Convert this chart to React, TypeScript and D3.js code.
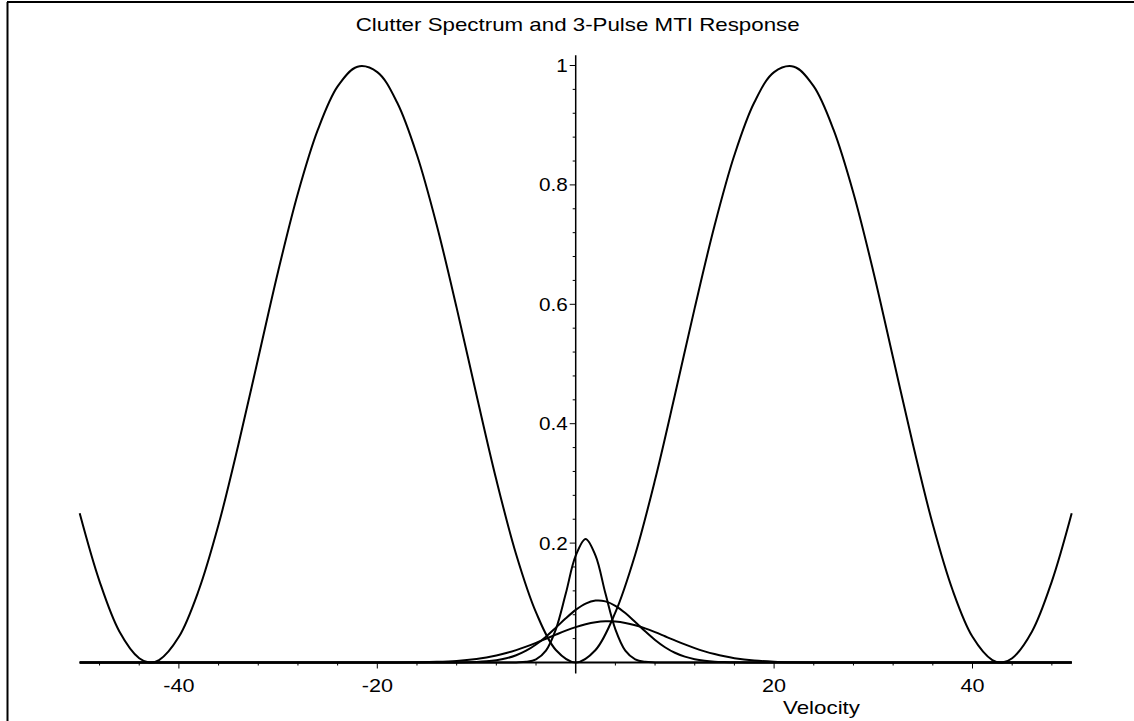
import React from "react";
import * as d3 from "d3";

// ---------- data ----------
const mtiVelocity = [
  -50, -48, -46, -44, -43, -42, -40, -38, -36, -34, -32, -30, -28, -26, -24, -22, -20, -18, -16, -14, -12,
  -10, -8, -6, -4, -2, 0, 2, 4, 6, 8, 10, 12, 14, 16, 18, 20, 22, 24, 26, 28, 30, 32, 34, 36, 38, 40, 42,
  43, 44, 46, 48, 50,
];
const mtiResponse = [
  0.25, 0.136, 0.052, 0.007, 0.0, 0.004, 0.043, 0.121, 0.231, 0.365, 0.51, 0.655, 0.786, 0.892, 0.965,
  0.998, 0.989, 0.938, 0.85, 0.732, 0.594, 0.448, 0.306, 0.181, 0.084, 0.021, 0.0, 0.021, 0.084, 0.181,
  0.306, 0.448, 0.594, 0.732, 0.85, 0.938, 0.989, 0.998, 0.965, 0.892, 0.786, 0.655, 0.51, 0.365, 0.231,
  0.121, 0.043, 0.004, 0.0, 0.007, 0.052, 0.136, 0.25,
];

const clutterVelocity = [
  -50, -30, -20, -18, -16, -14, -12, -10, -9, -8, -7, -6, -5, -4, -3, -2, -1, 0, 1, 2, 3, 4, 5, 6, 7, 8, 9,
  10, 11, 12, 13, 14, 15, 16, 18, 20, 22, 24, 26, 30, 50,
];
const clutterNarrow = [
  0, 0, 0, 0, 0, 0, 0, 0, 0, 0, 0, 0.0002, 0.0011, 0.0054, 0.02, 0.0556, 0.1154, 0.1789, 0.207, 0.1789,
  0.1154, 0.0556, 0.02, 0.0054, 0.0011, 0.0002, 0, 0, 0, 0, 0, 0, 0, 0, 0, 0, 0, 0, 0, 0, 0,
];
const clutterMedium = [
  0, 0, 0, 0.00001, 0.00003, 0.00003, 0.00018, 0.0009, 0.0019, 0.0038, 0.007, 0.0121, 0.0197, 0.0301,
  0.0432, 0.0584, 0.074, 0.0881, 0.0987, 0.1037, 0.1024, 0.095, 0.0828, 0.0678, 0.0522, 0.0377, 0.0256,
  0.0163, 0.0098, 0.0055, 0.0029, 0.0014, 0.0007, 0.0003, 0.00005, 0, 0, 0, 0, 0, 0,
];
const clutterWide = [
  0, 0, 0.00004, 0.00013, 0.0004, 0.0011, 0.0027, 0.0059, 0.0084, 0.0117, 0.0158, 0.0208, 0.0265, 0.0329,
  0.0398, 0.0467, 0.0534, 0.0593, 0.0641, 0.0674, 0.0689, 0.0685, 0.0663, 0.0624, 0.0571, 0.0508, 0.0439,
  0.037, 0.0303, 0.0241, 0.0187, 0.0141, 0.0103, 0.0073, 0.0034, 0.0014, 0.0005, 0.0002, 0.00005, 0, 0,
];

const xMajorTicks = [-40, -20, 20, 40];
const yMajorTicks = [0.2, 0.4, 0.6, 0.8, 1];
const titleText = "Clutter Spectrum and 3-Pulse MTI Response";
const xAxisLabel = "Velocity";

// ---------- layout ----------
const W = 1134;
const H = 721;
const FONT = "'Liberation Sans', Arial, sans-serif";

function Label(props: {
  x: number;
  y: number;
  text: string | number;
  anchor: "start" | "middle" | "end";
  size: number;
  sx: number;
}) {
  return (
    <text
      transform={`translate(${props.x},${props.y}) scale(${props.sx},1)`}
      textAnchor={props.anchor}
      fontFamily={FONT}
      fontSize={props.size}
      fill="#000"
    >
      {props.text}
    </text>
  );
}

export default function App() {
  const x = d3.scaleLinear().domain([-50, 50]).range([79.7, 1071.7]);
  const y = d3.scaleLinear().domain([0, 1]).range([662.5, 65.5]);

  const line = d3
    .line<[number, number]>()
    .x((d) => x(d[0]))
    .y((d) => y(d[1]))
    .curve(d3.curveCatmullRom.alpha(0.5));

  const series = [
    mtiVelocity.map((v, i) => [v, mtiResponse[i]] as [number, number]),
    clutterVelocity.map((v, i) => [v, clutterNarrow[i]] as [number, number]),
    clutterVelocity.map((v, i) => [v, clutterMedium[i]] as [number, number]),
    clutterVelocity.map((v, i) => [v, clutterWide[i]] as [number, number]),
  ];

  const xMinor = d3.range(-48, 49, 4).filter((v) => v % 20 !== 0);
  const yMinor = d3.range(0.04, 1.0, 0.04).filter((v) => Math.abs(v / 0.2 - Math.round(v / 0.2)) > 0.01);
  const x0 = x(0);
  const y0 = y(0);

  return (
    <div style={{ position: "absolute", left: 0, top: 0, width: W, height: H, background: "#fff" }}>
      <svg width={W} height={H} style={{ display: "block" }}>
        <rect x={0} y={0} width={W} height={H} fill="#fff" />
        {/* frame */}
        <line x1={7.5} y1={2} x2={7.5} y2={H} stroke="#000" strokeWidth={2} />
        <line x1={7} y1={2} x2={W} y2={2} stroke="#000" strokeWidth={2} />

        {/* title */}
        <Label x={x0 + 2} y={31} text={titleText} anchor="middle" size={18} sx={1.24} />

        {/* x axis */}
        <line x1={x(-50)} y1={y0} x2={x(50)} y2={y0} stroke="#000" strokeWidth={2} />
        {xMinor.map((v) => (
          <line key={"xm" + v} x1={x(v)} x2={x(v)} y1={y0} y2={y0 + 3} stroke="#000" strokeWidth={1} />
        ))}
        {xMajorTicks.map((v) => (
          <g key={"xt" + v}>
            <line x1={x(v)} x2={x(v)} y1={y0} y2={y0 + 6} stroke="#000" strokeWidth={1} />
            <Label x={x(v)} y={692} text={v} anchor="middle" size={18} sx={1.2} />
          </g>
        ))}
        <Label x={821.5} y={714} text={xAxisLabel} anchor="middle" size={18} sx={1.24} />

        {/* y axis */}
        <line x1={x0} y1={y0 + 11} x2={x0} y2={y(1.017)} stroke="#000" strokeWidth={1.5} />
        {yMinor.map((v) => (
          <line key={"ym" + v} x1={x0 - 3} x2={x0} y1={y(v)} y2={y(v)} stroke="#000" strokeWidth={1} />
        ))}
        {yMajorTicks.map((v) => (
          <g key={"yt" + v}>
            <line x1={x0 - 6} x2={x0} y1={y(v)} y2={y(v)} stroke="#000" strokeWidth={1} />
            <Label x={x0 - 8} y={y(v) + 6.5} text={v} anchor="end" size={18} sx={1.15} />
          </g>
        ))}

        {/* curves */}
        {series.map((s, i) => (
          <path key={"s" + i} d={line(s) || ""} fill="none" stroke="#000" strokeWidth={2} strokeLinejoin="round" />
        ))}
      </svg>
    </div>
  );
}
